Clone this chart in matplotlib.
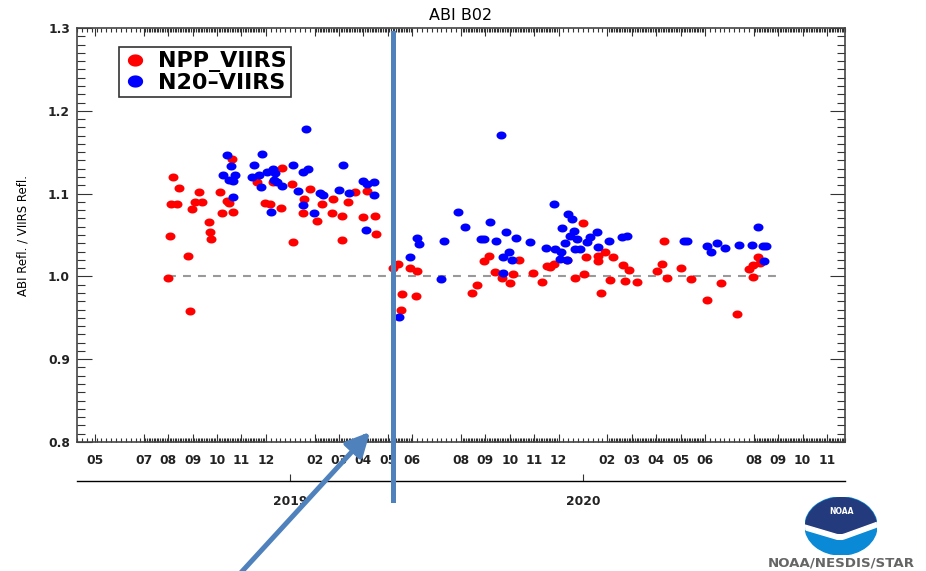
import numpy as np
import matplotlib
matplotlib.use('Agg')
import matplotlib.pyplot as plt
from matplotlib.path import Path
from matplotlib.patches import Ellipse, Polygon, FancyArrowPatch
from matplotlib.lines import Line2D

# x values are months counted from 2018-01-01 (0.0 = start of Jan 2018)
npp_month = [7.00, 7.07, 7.11, 7.20, 7.35, 7.45, 7.82, 7.89, 7.96, 8.10, 8.27, 8.37,
             8.67, 8.70, 8.74, 9.12, 9.22, 9.40, 9.49, 9.60, 9.67, 10.63, 10.97, 11.17,
             11.31, 11.62, 11.65, 12.09, 12.13, 12.54, 12.58, 12.81, 13.09, 13.29, 13.70,
             13.77, 14.11, 14.14, 14.38, 14.66, 15.00, 15.16, 15.48, 15.50, 16.23, 16.43,
             16.53, 16.57, 16.91, 17.14, 17.18, 19.44, 19.64, 19.94, 20.16, 20.39, 20.67,
             21.01, 21.14, 21.39, 21.97, 22.33, 22.51, 22.65, 22.81, 23.34, 23.67, 24.02,
             24.04, 24.14, 24.60, 24.63, 24.73, 24.89, 25.11, 25.22, 25.62, 25.72, 25.87,
             26.22, 27.02, 27.25, 27.32, 27.43, 28.00, 28.41, 29.07, 29.64, 30.32, 30.81,
             30.98, 30.98, 31.16, 31.27]
npp_ratio = [0.998, 1.049, 1.088, 1.120, 1.088, 1.107, 1.025, 0.958, 1.081, 1.090, 1.102, 1.090,
             1.066, 1.054, 1.045, 1.102, 1.077, 1.091, 1.089, 1.142, 1.078, 1.114, 1.089, 1.087,
             1.114, 1.083, 1.131, 1.112, 1.041, 1.076, 1.094, 1.106, 1.067, 1.087, 1.077,
             1.093, 1.073, 1.044, 1.090, 1.102, 1.072, 1.103, 1.073, 1.051, 1.010, 1.015,
             0.959, 0.979, 1.010, 0.976, 1.007, 0.980, 0.990, 1.019, 1.025, 1.005, 0.998,
             0.992, 1.003, 1.020, 1.004, 0.993, 1.013, 1.011, 1.015, 1.020, 0.998, 1.065,
             1.003, 1.023, 1.019, 1.025, 0.980, 1.029, 0.996, 1.024, 1.014, 0.994, 1.008,
             0.993, 1.006, 1.015, 1.043, 0.998, 1.010, 0.997, 0.971, 0.992, 0.954, 1.009,
             1.014, 0.999, 1.023, 1.016]

n20_month = [9.26, 9.40, 9.51, 9.57, 9.66, 9.67, 9.75, 10.43, 10.53, 10.74, 10.80, 10.83,
             11.04, 11.21, 11.31, 11.34, 11.38, 11.45, 11.65, 12.10, 12.31, 12.51, 12.54,
             12.64, 12.74, 12.96, 13.22, 13.36, 14.00, 14.18, 14.42, 15.00, 15.09, 15.15,
             15.42, 15.45, 16.47, 16.91, 17.21, 17.28, 18.17, 18.30, 18.89, 19.16, 19.81,
             19.94, 20.18, 20.43, 20.64, 20.73, 20.73, 20.86, 20.96, 21.08, 21.24, 21.84,
             22.48, 22.82, 22.87, 23.04, 23.10, 23.14, 23.25, 23.34, 23.39, 23.47, 23.55,
             23.62, 23.67, 23.74, 23.87, 24.15, 24.29, 24.56, 24.63, 25.05, 25.60, 25.80,
             28.15, 28.27, 29.10, 29.26, 29.50, 29.82, 30.40, 30.91, 31.16, 31.36, 31.43,
             31.51]
n20_ratio = [1.122, 1.147, 1.116, 1.133, 1.096, 1.115, 1.123, 1.120, 1.135, 1.122, 1.108, 1.148,
             1.126, 1.078, 1.130, 1.117, 1.125, 1.114, 1.109, 1.135, 1.103, 1.086, 1.126,
             1.178, 1.130, 1.077, 1.101, 1.098, 1.104, 1.134, 1.101, 1.115, 1.056, 1.112,
             1.098, 1.114, 0.951, 1.023, 1.046, 1.039, 0.997, 1.043, 1.078, 1.060, 1.045,
             1.045, 1.066, 1.043, 1.171, 1.023, 1.004, 1.054, 1.030, 1.020, 1.046, 1.041,
             1.034, 1.087, 1.033, 1.021, 1.030, 1.059, 1.040, 1.020, 1.075, 1.049, 1.069,
             1.055, 1.033, 1.045, 1.033, 1.041, 1.047, 1.054, 1.036, 1.043, 1.047, 1.049,
             1.043, 1.043, 1.037, 1.030, 1.040, 1.034, 1.038, 1.038, 1.060, 1.037, 1.018,
             1.037]

tick_month = [4, 6, 7, 8, 9, 10, 11, 13, 14, 15, 16, 17, 19, 20, 21, 22, 23,
              25, 26, 27, 28, 29, 31, 32, 33, 34]
tick_label = ['05', '07', '08', '09', '10', '11', '12', '02', '03', '04', '05', '06',
              '08', '09', '10', '11', '12', '02', '03', '04', '05', '06', '08', '09', '10', '11']
year_month = [12, 24]
year_label = ['2019', '2020']
ref_span = [7.0, 32.0]   # extent of the 1.0 reference line

W, H = 926, 571
fig = plt.figure(figsize=(W / 100, H / 100), dpi=100)
ax = fig.add_axes([77 / W, 1 - 442 / H, 768 / W, 414 / H])

# slightly flattened dot
t = np.linspace(0, 2 * np.pi, 40)
dot = Path(np.column_stack([np.cos(t), 0.8 * np.sin(t)]), closed=True)

ax.plot(ref_span, [1.0, 1.0], color='#999999', lw=1.5, ls=(0, (3.8, 3.4)), zorder=1)
ax.scatter(npp_month, npp_ratio, s=52, marker=dot, color='#ff0000', linewidths=0, zorder=2)
ax.scatter(n20_month, n20_ratio, s=52, marker=dot, color='#0000ff', linewidths=0, zorder=3)

ax.set_xlim(3.26, 34.74)
ax.set_ylim(0.8, 1.3)

# month ticks; dense minor ticks in months with data, sparse in the gaps
sparse = [(3.26, 6), (11, 13), (17, 19), (23, 25), (29, 31)]
dense = [(6, 11), (13, 17), (19, 23), (25, 29), (31, 34.74)]
minor = []
for a, b in sparse:
    minor += list(np.arange(a, b, 0.2))
for a, b in dense:
    minor += list(np.arange(a, b, 1 / 15))
ax.set_xticks(tick_month)
ax.set_xticklabels(tick_label)
ax.set_xticks(minor, minor=True)
ax.set_yticks(np.arange(0.8, 1.31, 0.1))
ax.set_yticklabels(['%.1f' % v for v in np.arange(0.8, 1.31, 0.1)])
ax.set_yticks(np.arange(0.8, 1.3, 0.01), minor=True)

ax.tick_params(axis='both', which='both', direction='in', top=True, right=True,
               color='#333333', width=0.8)
ax.tick_params(axis='x', which='major', length=6, pad=9, labelsize=8.8)
ax.tick_params(axis='x', which='minor', length=3)
ax.tick_params(axis='y', which='major', length=11, pad=5, labelsize=8.8)
ax.tick_params(axis='y', which='minor', length=6)
for lab in ax.get_xticklabels() + ax.get_yticklabels():
    lab.set_fontweight('bold')
    lab.set_color('#222222')
for sp in ax.spines.values():
    sp.set_linewidth(1.2)
    sp.set_color('#444444')

ax.set_ylabel('ABI Refl. / VIIRS Refl.', fontsize=8.5)
ax.yaxis.set_label_coords(-0.062, 0.5)
ax.set_title('ABI B02', fontsize=11.5, pad=6)

# year axis underneath the month labels
yr = ax.secondary_xaxis(-0.0942)
yr.set_xticks(year_month)
yr.set_xticklabels(year_label, fontsize=8.8, fontweight='bold', color='#222222')
yr.tick_params(axis='x', which='major', direction='in', length=5, pad=10, color='#333333')
yr.tick_params(axis='x', which='minor', length=0)
yr.spines['bottom'].set_linewidth(1.0)

# legend
h1 = Line2D([], [], ls='none', marker=dot, markersize=11, color='#ff0000', markeredgewidth=0)
h2 = Line2D([], [], ls='none', marker=dot, markersize=11, color='#0000ff', markeredgewidth=0)
leg = ax.legend([h1, h2], ['NPP_VIIRS', 'N20\u2013VIIRS'], loc='upper left',
                bbox_to_anchor=(0.0547, 0.954), borderaxespad=0, fancybox=False,
                edgecolor='black', prop=dict(weight='bold', size=16),
                borderpad=0.2, labelspacing=0.02, handlelength=1.0, handletextpad=0.55)
leg.get_frame().set_linewidth(1.2)

# annotation overlays
blue = '#4f81bd'
fig.add_artist(Line2D([393 / W, 393 / W], [1 - 33 / H, 1 - 500 / H],
                      transform=fig.transFigure, color=blue, lw=3.6))
fig.add_artist(FancyArrowPatch((236 / W, 1 - 578 / H), (370 / W, 1 - 432 / H),
                               transform=fig.transFigure, color=blue, lw=3.6,
                               arrowstyle='-|>,head_length=0.7,head_width=0.35',
                               mutation_scale=20, shrinkA=0, shrinkB=0))

# NOAA emblem
lg = fig.add_axes([805 / W, 1 - 555 / H, 72 / W, 58 / H])
lg.set_xlim(-1, 1)
lg.set_ylim(-1, 1)
lg.axis('off')
disc = Ellipse((0, 0), 2, 2, color='#0a89d6')
lg.add_patch(disc)
xs = np.linspace(-1.05, 1.05, 30)
edge = np.interp(xs, [-1.05, -0.1, 0.05, 1.05], [0.05, -0.3, -0.3, 0.15])
top = Polygon(np.vstack([np.column_stack([xs, edge]), [[1.05, 1.05], [-1.05, 1.05]]]),
              color='#233a7c')
lg.add_patch(top)
top.set_clip_path(disc)
gull = Polygon(np.vstack([np.column_stack([xs, edge]),
                          np.column_stack([xs[::-1], edge[::-1] - 0.16])]), color='white')
lg.add_patch(gull)
gull.set_clip_path(disc)
lg.text(0, 0.5, 'NOAA', color='white', fontsize=5.5, fontweight='bold',
        ha='center', va='center')
fig.text(841 / W, 1 - 563 / H, 'NOAA/NESDIS/STAR', fontsize=9.6, fontweight='bold',
         color='#666666', ha='center', va='center')

fig.savefig('out.png', dpi=100)
